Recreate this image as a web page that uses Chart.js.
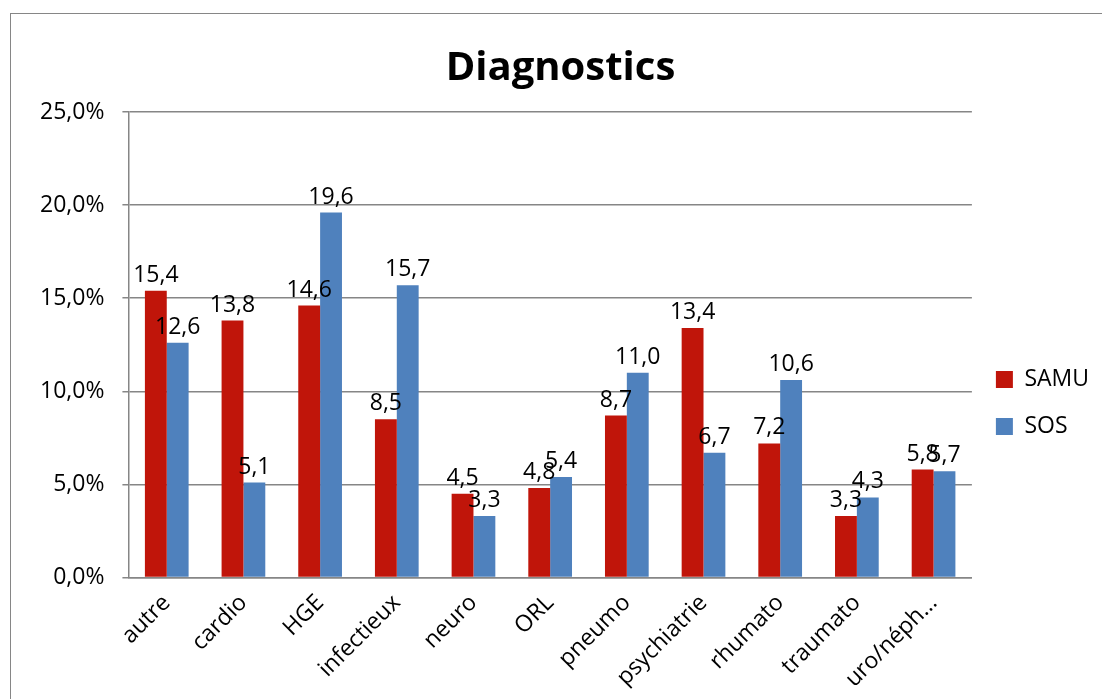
<!DOCTYPE html>
<html>
<head>
<meta charset="utf-8">
<script src="https://cdn.jsdelivr.net/npm/chart.js@4"></script>
<style>
  html, body { margin: 0; padding: 0; background: #fff; }
  #frame { position: absolute; left: 10px; top: 13px; width: 1200px; height: 800px; border: 1px solid #868686; }
  #wrap { position: absolute; left: 0; top: 0; width: 1102px; height: 699px; }
</style>
</head>
<body>
<div id="frame"></div>
<div id="wrap"><canvas id="myChart" width="1102" height="699"></canvas></div>
<script>
var categories = ["autre", "cardio", "HGE", "infectieux", "neuro", "ORL", "pneumo", "psychiatrie", "rhumato", "traumato", "uro/néph…"];
var samuValues = [15.4, 13.8, 14.6, 8.5, 4.5, 4.8, 8.7, 13.4, 7.2, 3.3, 5.8];
var sosValues = [12.6, 5.1, 19.6, 15.7, 3.3, 5.4, 11.0, 6.7, 10.6, 4.3, 5.7];
var yTicks = [0, 5, 10, 15, 20, 25];

var fmt = v => v.toFixed(1).replace('.', ',');
var font = "'Open Sans', 'Noto Sans', sans-serif";

// value labels above each bar
var barLabels = {
  id: 'barLabels',
  afterDatasetsDraw(chart) {
    var ctx = chart.ctx;
    ctx.save();
    ctx.font = '23px ' + font;
    ctx.fillStyle = '#000';
    ctx.textAlign = 'center';
    ctx.textBaseline = 'bottom';
    chart.data.datasets.forEach((ds, i) => {
      chart.getDatasetMeta(i).data.forEach((bar, j) => {
        ctx.fillText(fmt(ds.data[j]), bar.x, bar.y - 4);
      });
    });
    ctx.restore();
  }
};

// push the legend down a bit, like the original
var legendShift = {
  id: 'legendShift',
  afterLayout(chart) { chart.legend.top += 64; }
};

Chart.defaults.font.family = font;
Chart.defaults.color = '#000';

new Chart("myChart", {
  type: "bar",
  data: {
    labels: categories,
    datasets: [{
      label: "SAMU",
      backgroundColor: "#C0150A",
      data: samuValues
    }, {
      label: "SOS",
      backgroundColor: "#4F81BD",
      data: sosValues
    }]
  },
  options: {
    responsive: false,
    animation: false,
    categoryPercentage: 0.57,
    barPercentage: 1,
    layout: {padding: {left: 22, right: 3, top: 45, bottom: 2}},
    scales: {
      y: {
        min: 0,
        max: 25,
        afterBuildTicks: axis => { axis.ticks = yTicks.map(v => ({value: v})); },
        border: {color: '#868686', width: 1.5},
        grid: {color: '#868686', lineWidth: 1.5, tickLength: 6},
        ticks: {font: {size: 23}, padding: 18, callback: v => fmt(v) + '%'}
      },
      x: {
        border: {color: '#868686', width: 1.5},
        grid: {display: false},
        ticks: {font: {size: 23}, minRotation: 45, maxRotation: 45, padding: 4}
      }
    },
    plugins: {
      title: {
        display: true,
        text: "Diagnostics",
        font: {size: 40, weight: 'bold'},
        padding: {top: 0, bottom: 19}
      },
      legend: {
        position: 'right',
        labels: {boxWidth: 17, boxHeight: 17, font: {size: 23}, padding: 24}
      },
      tooltip: {enabled: false}
    }
  },
  plugins: [barLabels, legendShift]
});
</script>
</body>
</html>
